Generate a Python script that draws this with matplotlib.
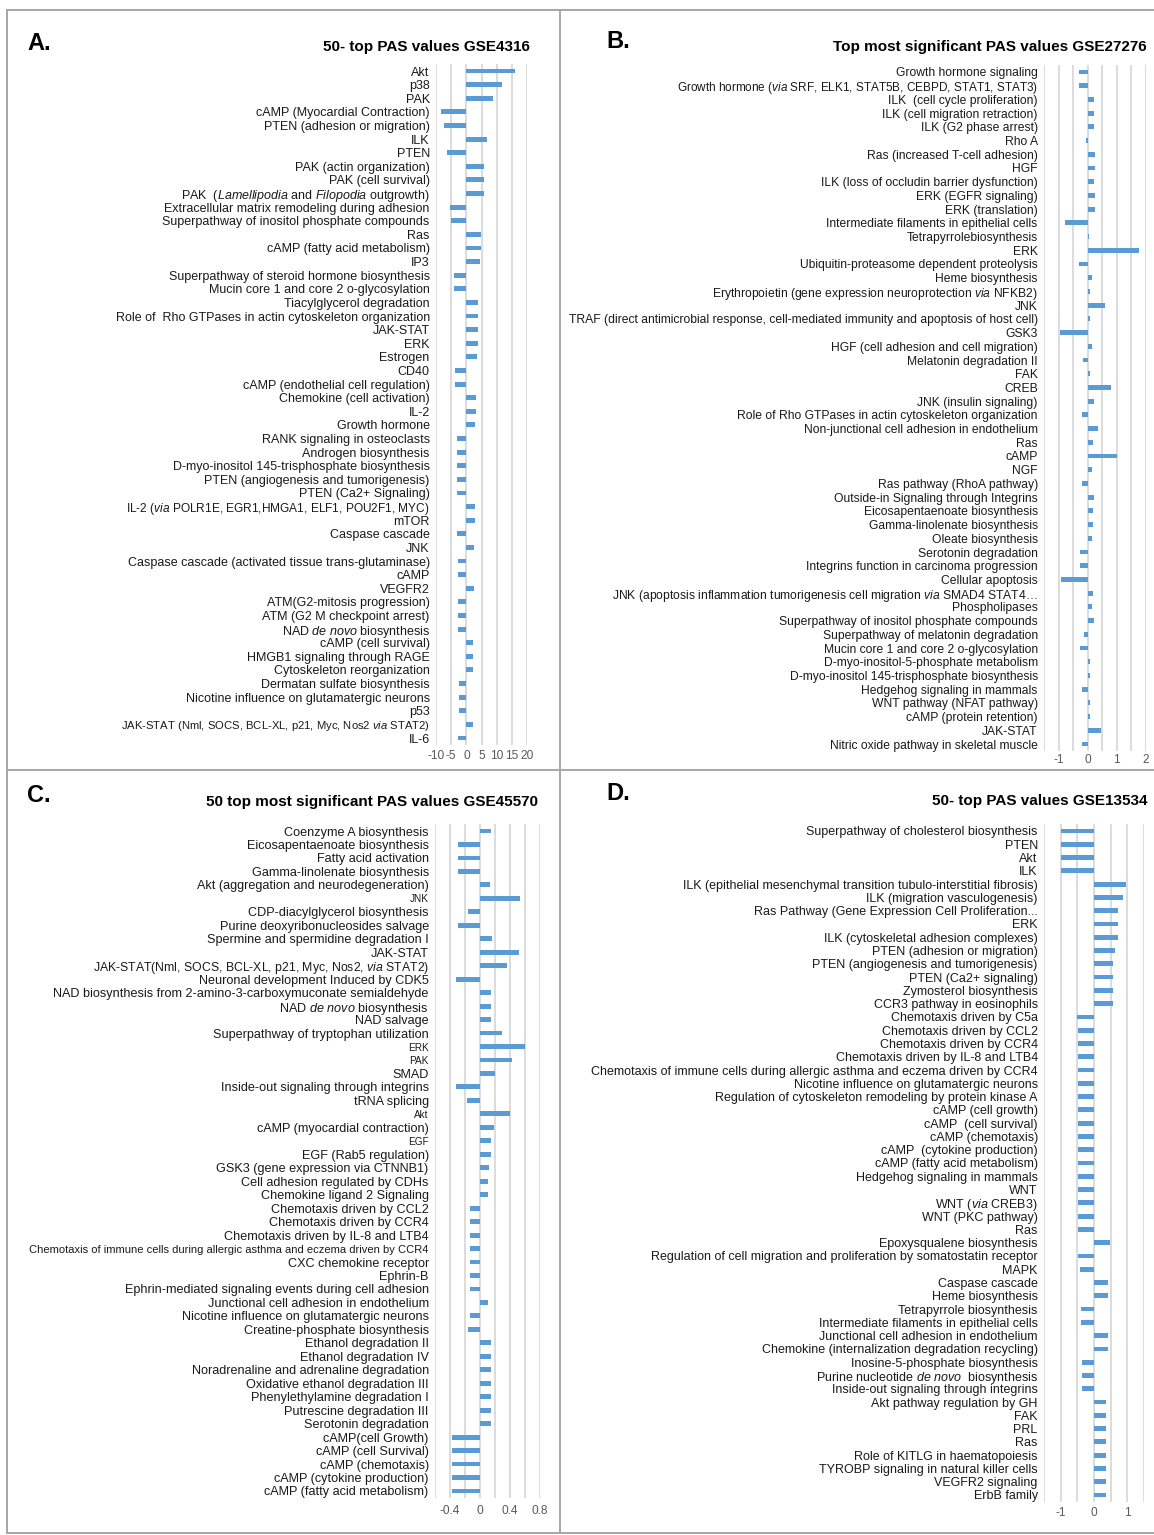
import numpy as np
import matplotlib
matplotlib.use("Agg")
import matplotlib.pyplot as plt
from matplotlib.lines import Line2D

plt.rcParams["font.family"] = ["Liberation Sans", "DejaVu Sans"]
plt.rcParams["mathtext.fontset"] = "custom"
plt.rcParams["mathtext.rm"] = "Liberation Sans"
plt.rcParams["mathtext.it"] = "Liberation Sans:italic"

# ---------------- data ----------------
a_labels = [
    "Akt", "p38", "PAK", "cAMP (Myocardial Contraction)", "PTEN (adhesion or migration)",
    "ILK", "PTEN", "PAK (actin organization)", "PAK (cell survival)",
    r"PAK  ($\mathit{Lamellipodia}$ and $\mathit{Filopodia}$ outgrowth)",
    "Extracellular matrix remodeling during adhesion",
    "Superpathway of inositol phosphate compounds", "Ras", "cAMP (fatty acid metabolism)",
    "IP3", "Superpathway of steroid hormone biosynthesis",
    "Mucin core 1 and core 2 o-glycosylation", "Tiacylglycerol degradation",
    "Role of  Rho GTPases in actin cytoskeleton organization", "JAK-STAT", "ERK",
    "Estrogen", "CD40", "cAMP (endothelial cell regulation)", "Chemokine (cell activation)",
    "IL-2", "Growth hormone", "RANK signaling in osteoclasts", "Androgen biosynthesis",
    "D-myo-inositol 145-trisphosphate biosynthesis", "PTEN (angiogenesis and tumorigenesis)",
    "PTEN (Ca2+ Signaling)",
    r"IL-2 ($\mathit{via}$ POLR1E, EGR1,HMGA1, ELF1, POU2F1, MYC)",
    "mTOR", "Caspase cascade", "JNK",
    "Caspase cascade (activated tissue trans-glutaminase)", "cAMP", "VEGFR2",
    "ATM(G2-mitosis progression)", "ATM (G2 M checkpoint arrest)",
    r"NAD $\mathit{de\ novo}$ biosynthesis", "cAMP (cell survival)",
    "HMGB1 signaling through RAGE", "Cytoskeleton reorganization",
    "Dermatan sulfate biosynthesis", "Nicotine influence on glutamatergic neurons", "p53",
    r"JAK-STAT (Nml, SOCS, BCL-XL, p21, Myc, Nos2 $\mathit{via}$ STAT2)", "IL-6",
]
a_values = [
    16.1, 11.7, 8.9, -8.3, -7.5, 6.7, -6.4, 5.8, 5.8, 5.8,
    -5.3, -5.2, 4.7, 4.7, 4.4, -4.2, -4.0, 3.9, 3.9, 3.9,
    3.9, 3.6, -3.7, -3.6, 3.1, 3.1, 2.8, -3.1, -3.1, -3.1,
    -3.1, -3.1, 2.8, 2.8, -3.0, 2.6, -2.7, -2.7, 2.4, -2.6,
    -2.6, -2.6, 2.2, 2.2, 2.2, -2.4, -2.4, -2.4, 2.2, -2.6,
]
# labels printed in a reduced size in panel A
a_small = {
    r"IL-2 ($\mathit{via}$ POLR1E, EGR1,HMGA1, ELF1, POU2F1, MYC)": 8.6,
    r"JAK-STAT (Nml, SOCS, BCL-XL, p21, Myc, Nos2 $\mathit{via}$ STAT2)": 8.1,
}
a_ticks = [-10, -5, 0, 5, 10, 15, 20]
a_ticklabels = ["-10", "-5", "0", "5", "10", "15", "20"]

b_labels = [
    "Growth hormone signaling",
    r"Growth hormone ($\mathit{via}$ SRF, ELK1, STAT5B, CEBPD, STAT1, STAT3)",
    "ILK  (cell cycle proliferation)", "ILK (cell migration retraction)",
    "ILK (G2 phase arrest)", "Rho A", "Ras (increased T-cell adhesion)", "HGF",
    "ILK (loss of occludin barrier dysfunction)", "ERK (EGFR signaling)", "ERK (translation)",
    "Intermediate filaments in epithelial cells", "Tetrapyrrolebiosynthesis", "ERK",
    "Ubiquitin-proteasome dependent proteolysis", "Heme biosynthesis",
    r"Erythropoietin (gene expression neuroprotection $\mathit{via}$ NFKB2)", "JNK",
    "TRAF (direct antimicrobial response, cell-mediated immunity and apoptosis of host cell)",
    "GSK3", "HGF (cell adhesion and cell migration)", "Melatonin degradation II", "FAK",
    "CREB", "JNK (insulin signaling)", "Role of Rho GTPases in actin cytoskeleton organization",
    "Non-junctional cell adhesion in endothelium", "Ras", "cAMP", "NGF",
    "Ras pathway (RhoA pathway)", "Outside-in Signaling through Integrins",
    "Eicosapentaenoate biosynthesis", "Gamma-linolenate biosynthesis", "Oleate biosynthesis",
    "Serotonin degradation", "Integrins function in carcinoma progression",
    "Cellular apoptosis",
    r"JNK (apoptosis inflammation tumorigenesis cell migration $\mathit{via}$ SMAD4 STAT4…",
    "Phospholipases", "Superpathway of inositol phosphate compounds",
    "Superpathway of melatonin degradation", "Mucin core 1 and core 2 o-glycosylation",
    "D-myo-inositol-5-phosphate metabolism", "D-myo-inositol 145-trisphosphate biosynthesis",
    "Hedgehog signaling in mammals", "WNT pathway (NFAT pathway)", "cAMP (protein retention)",
    "JAK-STAT", "Nitric oxide pathway in skeletal muscle",
]
b_values = [
    -0.30, -0.30, 0.22, 0.22, 0.22, -0.07, 0.25, 0.26, 0.23, 0.25,
    0.25, -0.77, 0.06, 1.76, -0.30, 0.14, 0.08, 0.59, 0.08, -0.96,
    0.15, -0.16, 0.08, 0.79, 0.22, -0.18, 0.37, 0.19, 0.99, 0.15,
    -0.18, 0.22, 0.17, 0.17, 0.13, -0.27, -0.25, -0.93, 0.19, 0.15,
    0.22, -0.12, -0.27, 0.08, 0.08, -0.18, 0.08, 0.08, 0.45, -0.18,
]
b_small = {
    r"Growth hormone ($\mathit{via}$ SRF, ELK1, STAT5B, CEBPD, STAT1, STAT3)": 8.5,
}
b_ticks = [-1.5, -1.0, -0.5, 0.0, 0.5, 1.0, 1.5, 2.0]
b_ticklabels = ["", "-1", "", "0", "", "1", "", "2"]

c_labels = [
    "Coenzyme A biosynthesis", "Eicosapentaenoate biosynthesis", "Fatty acid activation",
    "Gamma-linolenate biosynthesis", "Akt (aggregation and neurodegeneration)", "JNK",
    "CDP-diacylglycerol biosynthesis", "Purine deoxyribonucleosides salvage",
    "Spermine and spermidine degradation I", "JAK-STAT",
    r"JAK-STAT(Nml, SOCS, BCL-XL, p21, Myc, Nos2, $\mathit{via}$ STAT2)",
    "Neuronal development Induced by CDK5",
    "NAD biosynthesis from 2-amino-3-carboxymuconate semialdehyde",
    r"NAD $\mathit{de\ novo}$ biosynthesis", "NAD salvage",
    "Superpathway of tryptophan utilization", "ERK", "PAK", "SMAD",
    "Inside-out signaling through integrins", "tRNA splicing", "Akt",
    "cAMP (myocardial contraction)", "EGF", "EGF (Rab5 regulation)",
    "GSK3 (gene expression via CTNNB1)", "Cell adhesion regulated by CDHs",
    "Chemokine ligand 2 Signaling", "Chemotaxis driven by CCL2", "Chemotaxis driven by CCR4",
    "Chemotaxis driven by IL-8 and LTB4",
    "Chemotaxis of immune cells during allergic asthma and eczema driven by CCR4",
    "CXC chemokine receptor", "Ephrin-B", "Ephrin-mediated signaling events during cell adhesion",
    "Junctional cell adhesion in endothelium", "Nicotine influence on glutamatergic neurons",
    "Creatine-phosphate biosynthesis", "Ethanol degradation II", "Ethanol degradation IV",
    "Noradrenaline and adrenaline degradation", "Oxidative ethanol degradation III",
    "Phenylethylamine degradation I", "Putrescine degradation III", "Serotonin degradation",
    "cAMP(cell Growth)", "cAMP (cell Survival)", "cAMP (chemotaxis)",
    "cAMP (cytokine production)", "cAMP (fatty acid metabolism)",
]
c_values = [
    0.14, -0.29, -0.29, -0.29, 0.13, 0.53, -0.16, -0.30, 0.16, 0.52,
    0.36, -0.32, 0.14, 0.14, 0.14, 0.29, 0.60, 0.43, 0.20, -0.32,
    -0.18, 0.40, 0.18, 0.14, 0.14, 0.12, 0.11, 0.11, -0.13, -0.13,
    -0.13, -0.13, -0.13, -0.13, -0.13, 0.11, -0.13, -0.16, 0.15, 0.15,
    0.15, 0.15, 0.15, 0.15, 0.15, -0.37, -0.37, -0.37, -0.37, -0.37,
]
# labels printed in a reduced size in panel C
c_small = {"JNK": 7.2, "ERK": 7.2, "PAK": 7.2, "Akt": 7.2, "EGF": 7.2,
           "Chemotaxis of immune cells during allergic asthma and eczema driven by CCR4": 8.0,
           r"JAK-STAT(Nml, SOCS, BCL-XL, p21, Myc, Nos2, $\mathit{via}$ STAT2)": 8.8}
c_ticks = [-0.6, -0.4, -0.2, 0.0, 0.2, 0.4, 0.6, 0.8]
c_ticklabels = ["", "-0.4", "", "0", "", "0.4", "", "0.8"]

d_labels = [
    "Superpathway of cholesterol biosynthesis", "PTEN", "Akt", "ILK",
    "ILK (epithelial mesenchymal transition tubulo-interstitial fibrosis)",
    "ILK (migration vasculogenesis)", "Ras Pathway (Gene Expression Cell Proliferation...",
    "ERK", "ILK (cytoskeletal adhesion complexes)", "PTEN (adhesion or migration)",
    "PTEN (angiogenesis and tumorigenesis)", "PTEN (Ca2+ signaling)", "Zymosterol biosynthesis",
    "CCR3 pathway in eosinophils", "Chemotaxis driven by C5a", "Chemotaxis driven by CCL2",
    "Chemotaxis driven by CCR4", "Chemotaxis driven by IL-8 and LTB4",
    "Chemotaxis of immune cells during allergic asthma and eczema driven by CCR4",
    "Nicotine influence on glutamatergic neurons",
    "Regulation of cytoskeleton remodeling by protein kinase A", "cAMP (cell growth)",
    "cAMP  (cell survival)", "cAMP (chemotaxis)", "cAMP  (cytokine production)",
    "cAMP (fatty acid metabolism)", "Hedgehog signaling in mammals", "WNT",
    r"WNT ($\mathit{via}$ CREB3)", "WNT (PKC pathway)", "Ras", "Epoxysqualene biosynthesis",
    "Regulation of cell migration and proliferation by somatostatin receptor", "MAPK",
    "Caspase cascade", "Heme biosynthesis", "Tetrapyrrole biosynthesis",
    "Intermediate filaments in epithelial cells", "Junctional cell adhesion in endothelium",
    "Chemokine (internalization degradation recycling)", "Inosine-5-phosphate biosynthesis",
    r"Purine nucleotide $\mathit{de\ novo}$  biosynthesis", "Inside-out signaling through integrins",
    "Akt pathway regulation by GH", "FAK", "PRL", "Ras", "Role of KITLG in haematopoiesis",
    "TYROBP signaling in natural killer cells", "VEGFR2 signaling", "ErbB family",
]
d_values = [
    -0.99, -0.99, -0.99, -0.99, 0.95, 0.86, 0.72, 0.72, 0.72, 0.62,
    0.57, 0.57, 0.57, 0.57, -0.52, -0.48, -0.48, -0.48, -0.48, -0.48,
    -0.48, -0.48, -0.48, -0.48, -0.48, -0.48, -0.48, -0.48, -0.48, -0.48,
    -0.48, 0.48, -0.47, -0.42, 0.43, 0.43, -0.39, -0.39, 0.41, 0.41,
    -0.35, -0.35, -0.35, 0.35, 0.35, 0.35, 0.35, 0.35, 0.35, 0.35, 0.35,
]
d_ticks = [-1.5, -1.0, -0.5, 0.0, 0.5, 1.0, 1.5]
d_ticklabels = ["", "-1", "", "0", "", "1", ""]

# ---------------- layout ----------------
W, H = 1154, 1535
fig = plt.figure(figsize=(W / 100, H / 100), dpi=100)
fig.patch.set_facecolor("white")

BAR = "#5B9BD5"
GRID = "#D9D9D9"
TICK = "#595959"


def add_panel(x0, x1, first_row, last_row, labels, values, ticks, ticklabels,
              small=None, fs=9.0, xpad=3.5):
    n = len(labels)
    step = (last_row - first_row) / (n - 1)
    y0 = first_row - step / 2
    y1 = last_row + step / 2
    ax = fig.add_axes([x0 / W, 1 - y1 / H, (x1 - x0) / W, (y1 - y0) / H])
    pos = np.arange(n)
    ax.barh(pos, values, height=0.36, color=BAR, zorder=3)
    ax.set_ylim(n - 0.5, -0.5)
    ax.set_xlim(ticks[0], ticks[-1])
    ax.set_xticks(ticks)
    ax.set_xticklabels(ticklabels, fontsize=8.6, color=TICK)
    ax.set_yticks(pos)
    ax.set_yticklabels(labels, fontsize=fs, color="#1a1a1a")
    if small:
        for lab, t in zip(labels, ax.get_yticklabels()):
            if lab in small:
                t.set_fontsize(small[lab])
    ax.tick_params(axis="both", length=0)
    ax.tick_params(axis="y", pad=4.5)
    ax.tick_params(axis="x", pad=xpad)
    ax.grid(axis="x", color=GRID, linewidth=1.3, zorder=0)
    for s in ax.spines.values():
        s.set_visible(False)
    ax.set_facecolor("none")
    return ax


add_panel(436, 527, 71, 738, a_labels, a_values, a_ticks, a_ticklabels, small=a_small,
          fs=9.0, xpad=3.5)
add_panel(1044, 1146, 72, 744, b_labels, b_values, b_ticks, b_ticklabels, small=b_small,
          fs=8.7, xpad=2.5)
add_panel(435, 540, 831, 1491, c_labels, c_values, c_ticks, c_ticklabels, small=c_small,
          fs=9.1, xpad=5.5)
add_panel(1044, 1144, 831, 1495, d_labels, d_values, d_ticks, d_ticklabels, fs=9.0, xpad=3.5)


def ftext(x, y, s, **kw):
    fig.text(x / W, 1 - y / H, s, **kw)


letter_kw = dict(fontsize=17, fontweight="bold", va="center", ha="left")
title_kw = dict(fontsize=11, fontweight="bold", va="center", ha="right")

ftext(27, 44, "A.", **letter_kw)
ftext(530, 47, "50- top PAS values GSE4316", **title_kw)
ftext(606, 42, "B.", **letter_kw)
ftext(1147, 47, "Top most significant PAS values GSE27276", **title_kw)
ftext(27, 795, "C.", **letter_kw)
ftext(538, 802, "50 top most significant PAS values GSE45570", **title_kw)
ftext(606, 793, "D.", **letter_kw)
ftext(1147, 801, "50- top PAS values GSE13534", **title_kw)

# panel frames
BORDER = "#A6A6A6"


def hline(y, xa, xb):
    fig.add_artist(Line2D([xa / W, xb / W], [1 - y / H, 1 - y / H],
                          transform=fig.transFigure, color=BORDER, linewidth=1.4))


def vline(x, ya, yb):
    fig.add_artist(Line2D([x / W, x / W], [1 - ya / H, 1 - yb / H],
                          transform=fig.transFigure, color=BORDER, linewidth=1.4))


hline(10, 7, 1154)
hline(770, 7, 1154)
hline(1533, 7, 1154)
vline(7, 10, 1533)
vline(560, 10, 1533)

fig.savefig("out.png", dpi=100, facecolor="white")
